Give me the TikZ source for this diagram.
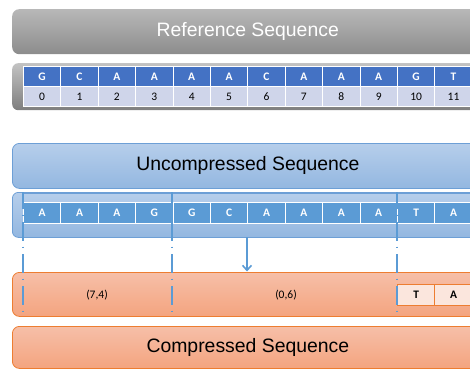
\documentclass[tikz,border=0pt]{standalone}
\usepackage{fontspec}
\setmainfont{Liberation Sans}
\newfontfamily\calfont{Carlito}
\usetikzlibrary{arrows.meta}
\definecolor{grayTop}{HTML}{B8B8B8}
\definecolor{grayBot}{HTML}{8C8C8C}
\definecolor{hdrBlue}{HTML}{4472C4}
\definecolor{numBlue}{HTML}{CFD5EA}
\definecolor{cellBlue}{HTML}{5B9BD5}
\definecolor{blueTop}{HTML}{B6CEEB}
\definecolor{blueBot}{HTML}{93B7E0}
\definecolor{blueLine}{HTML}{6D9FD6}
\definecolor{orTop}{HTML}{F6BFA8}
\definecolor{orBot}{HTML}{F4A47F}
\definecolor{orLine}{HTML}{ED7D31}
\definecolor{orCell}{HTML}{FBE6DD}
\tikzset{
  banner/.style={rectangle, rounded corners=7pt, anchor=north west, inner sep=0pt,
    minimum width=471pt, font=\fontsize{19.4}{22}\selectfont},
  graybanner/.style={banner, top color=grayTop, bottom color=grayBot, text=white},
  bluebanner/.style={banner, top color=blueTop, bottom color=blueBot, draw=blueLine, line width=0.8pt},
  orbanner/.style={banner, top color=orTop, bottom color=orBot, draw=orLine, line width=0.8pt},
  cellbase/.style={rectangle, anchor=north west, inner sep=0pt, minimum width=37.4pt,
    font=\calfont\fontsize{11.5}{13}\selectfont},
  hdrcell/.style={cellbase, minimum height=20pt, fill=hdrBlue, draw=white, line width=0.8pt, text=white, font=\calfont\bfseries\fontsize{11.5}{13}\selectfont},
  numcell/.style={cellbase, minimum height=20pt, fill=numBlue, draw=white, line width=0.8pt},
  seqcell/.style={cellbase, minimum height=21pt, fill=cellBlue, draw=white, line width=0.8pt, text=white, font=\calfont\bfseries\fontsize{11.5}{13}\selectfont},
  litcell/.style={cellbase, minimum height=21pt, fill=orCell, draw=orLine, line width=0.8pt, font=\calfont\bfseries\fontsize{11.5}{13}\selectfont},
  pairtext/.style={font=\calfont\fontsize{11.5}{13}\selectfont},
  cut/.style={draw=cellBlue, line width=1.7pt, dash pattern=on 19pt off 5.5pt on 1.5pt off 6pt, dash phase=2pt},
  segment/.style={rectangle, anchor=north west, inner sep=0pt, minimum height=44pt,
    top color=blueTop, bottom color=blueBot, draw=blueLine, line width=0.6pt},
}
\begin{document}
\begin{tikzpicture}[x=1pt,y=-1pt]
\useasboundingbox (0,0) rectangle (470,369);
\clip (0,0) rectangle (470,369);

% reference sequence
\node[graybanner, minimum height=45pt] (refbanner) at (12,9) {Reference Sequence};
\node[rectangle, rounded corners=6pt, anchor=north west, minimum width=471pt, minimum height=47pt,
  top color=grayTop!85!white, bottom color=grayBot!90!black, inner sep=0pt] (refback) at (12,63) {};
\foreach \b [count=\i from 0] in {G,C,A,A,A,A,C,A,A,A,G,T} {
  \node[hdrcell] (rb\i) at ({23+37.4*\i},66) {\b};
  \node[numcell] (rn\i) at ({23+37.4*\i},86) {\i};
}

% uncompressed sequence
\node[bluebanner, minimum height=45pt] (unbanner) at (12,143) {Uncompressed Sequence};
\node[rectangle, rounded corners=6pt, anchor=north west, minimum width=471pt, minimum height=45pt,
  top color=blueTop, bottom color=blueBot, draw=blueLine, line width=0.8pt, inner sep=0pt] (unbar) at (12,192) {};
\node[segment, minimum width=149pt] (seg1) at (23,193) {};
\node[segment, minimum width=225pt] (seg2) at (172,193) {};
\node[segment, minimum width=90pt] (seg3) at (397,193) {};
\foreach \b [count=\i from 0] in {A,A,A,G,G,C,A,A,A,A,T,A} {
  \node[seqcell] (us\i) at ({23+37.4*\i},202) {\b};
}

% compressed sequence
\node[orbanner, minimum height=44pt] (cobar) at (12,272) {};
\node[pairtext] (p1) at (97,295) {(7,4)};
\node[pairtext] (p2) at (286,295) {(0,6)};
\node[litcell] (lt) at (397,284) {T};
\node[litcell] (la) at (434.4,284) {A};
\node[orbanner, minimum height=42pt] (cobanner) at (12,326) {Compressed Sequence};

% segment boundaries
\foreach \x [count=\k] in {23,172,397} {
  \coordinate (cuttop\k) at (\x,192);
  \coordinate (cutbot\k) at (\x,314);
  \draw[cut] (cuttop\k) -- (cutbot\k);
}

% encoding arrow
\coordinate (arrfrom) at (247,237);
\coordinate (arrto) at (247,271.5);
\draw[draw=cellBlue, line width=1.6pt, -{Straight Barb[length=5pt,width=9pt]}] (arrfrom) -- (arrto);
\end{tikzpicture}
\end{document}
